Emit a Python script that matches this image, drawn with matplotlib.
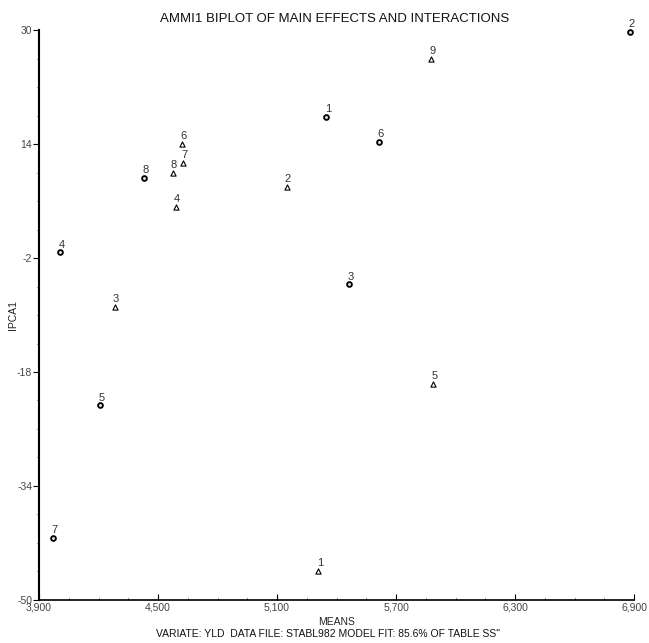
import numpy as np
import matplotlib.pyplot as plt
from matplotlib.ticker import FixedLocator, FuncFormatter

# environments (circles)
env_labels = ['1', '2', '3', '4', '5', '6', '7', '8']
env_means = [5349, 6880, 5465, 4006, 4207, 5616, 3970, 4428]
env_ipca = [17.8, 29.7, -5.7, -1.2, -22.7, 14.3, -41.3, 9.3]

# genotypes (triangles)
gen_labels = ['1', '2', '3', '4', '5', '6', '7', '8', '9']
gen_means = [5309, 5148, 4282, 4590, 5888, 4620, 4625, 4574, 5878]
gen_ipca = [-45.9, 8.0, -8.9, 5.2, -19.7, 14.0, 11.4, 10.0, 25.9]

plt.rcParams['font.family'] = ['Liberation Sans', 'DejaVu Sans']

fig = plt.figure(figsize=(6.49, 6.43), dpi=100)
ax = fig.add_axes([0.0601, 0.0669, 0.9169, 0.8864])

ax.scatter(env_means, env_ipca, s=12, marker='o', facecolor='#dddddd',
           edgecolor='black', linewidth=1.3, zorder=3, clip_on=False)
ax.scatter(gen_means, gen_ipca, s=14, marker='^', facecolor='white',
           edgecolor='black', linewidth=0.8, zorder=3, clip_on=False)

for lab, x, y in zip(env_labels, env_means, env_ipca):
    ax.annotate(lab, (x, y), xytext=(1, 2), textcoords='offset points',
                ha='center', va='bottom', fontsize=8, color='#333333',
                annotation_clip=False)
for lab, x, y in zip(gen_labels, gen_means, gen_ipca):
    ax.annotate(lab, (x, y), xytext=(1, 2), textcoords='offset points',
                ha='center', va='bottom', fontsize=8, color='#333333',
                annotation_clip=False)

ax.set_xlim(3900, 6900)
ax.set_ylim(-50, 30)
ax.xaxis.set_major_locator(FixedLocator(np.arange(3900, 6901, 600)))
ax.xaxis.set_minor_locator(FixedLocator(np.arange(3900, 6901, 150)))
ax.yaxis.set_major_locator(FixedLocator(np.arange(-50, 31, 16)))
ax.yaxis.set_minor_locator(FixedLocator(np.arange(-50, 31, 4)))
ax.xaxis.set_major_formatter(FuncFormatter(lambda v, p: f'{int(v):,}'))
ax.yaxis.set_major_formatter(FuncFormatter(lambda v, p: f'{int(v)}'))

ax.spines['top'].set_visible(False)
ax.spines['right'].set_visible(False)
ax.spines['left'].set_linewidth(1.5)
ax.spines['bottom'].set_linewidth(1.2)

ax.tick_params(axis='x', which='major', direction='in', length=4, width=0.8,
               labelsize=7.5, labelcolor='#444444', pad=2)
ax.tick_params(axis='x', which='minor', direction='in', length=1.5, width=0.6)
ax.tick_params(axis='y', which='major', direction='out', length=4, width=0.8,
               labelsize=7.5, labelcolor='#444444', pad=1)
ax.tick_params(axis='y', which='minor', direction='out', length=1.5, width=0.6)

ax.set_xlabel('MEANS', fontsize=7.5, color='#222222', labelpad=3)
ax.set_ylabel('IPCA1', fontsize=7.5, color='#222222')
ax.yaxis.set_label_coords(-0.036, 0.5)

fig.text(0.515, 0.971, 'AMMI1 BIPLOT OF MAIN EFFECTS AND INTERACTIONS',
         ha='center', va='center', fontsize=9.5, color='#111111')
fig.text(0.505, 0.014, 'VARIATE: YLD  DATA FILE: STABL982 MODEL FIT: 85.6% OF TABLE SS"',
         ha='center', va='center', fontsize=7.5, color='#111111')

fig.savefig('out.png', dpi=100)
